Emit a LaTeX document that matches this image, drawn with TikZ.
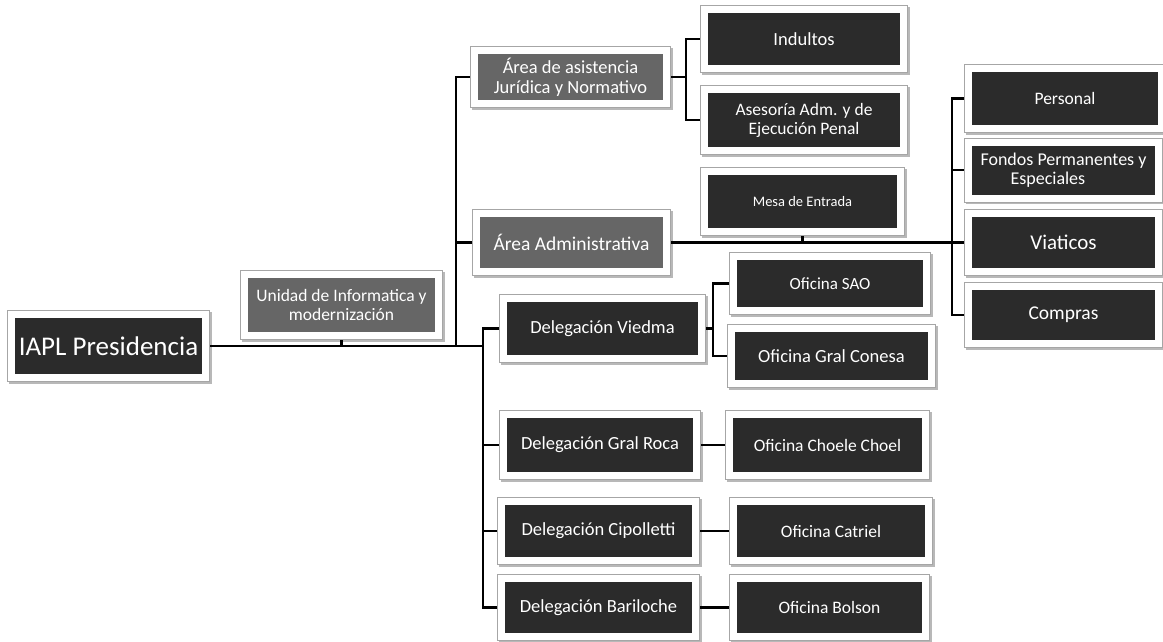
\documentclass[tikz,border=0pt]{standalone}
\usepackage{fontspec}
\setmainfont{Carlito}
\definecolor{darkbox}{HTML}{2B2B2B}
\definecolor{graybox}{HTML}{666666}
\definecolor{frameline}{HTML}{A6A6A6}
\tikzset{
  unit/.style={fill=darkbox, text=white, font=\fontsize{18.5}{20}\selectfont,
    align=center, inner sep=2pt, outer sep=8pt,
    preaction={draw=black!28, line width=16pt, transform canvas={shift={(1.5pt,-1.5pt)}}},
    preaction={draw=frameline, line width=16pt},
    preaction={draw=white, line width=14pt}},
  grayunit/.style={unit, fill=graybox},
  link/.style={draw=black, line width=2.4pt}
}
\begin{document}
\begin{tikzpicture}[x=1pt,y=-1pt]
\useasboundingbox (0,0) rectangle (1163,641);
% nodes
\node[unit, minimum width=187pt, minimum height=56pt, font=\fontsize{27}{30}\selectfont] (pres) at (108.5,346) {IAPL Presidencia};
\node[grayunit, minimum width=187pt, minimum height=54pt, font=\fontsize{17.5}{19}\selectfont] (unidad) at (341.5,305) {Unidad de Informatica y\\modernización};
\node[grayunit, minimum width=185pt, minimum height=46pt] (jur) at (570.5,77) {Área de asistencia\\Jurídica y Normativo};
\node[unit, minimum width=192pt, minimum height=52pt] (indultos) at (804,39) {Indultos};
\node[unit, minimum width=192pt, minimum height=54pt, font=\fontsize{17.5}{19}\selectfont] (asesoria) at (804,120) {Asesoría Adm. y de\\Ejecución Penal};
\node[unit, minimum width=189pt, minimum height=53pt, font=\fontsize{14.5}{16}\selectfont] (mesa) at (802.5,201.5) {Mesa de Entrada};
\node[grayunit, minimum width=183pt, minimum height=51pt, font=\fontsize{19.5}{21}\selectfont] (adm) at (571.5,242.5) {Área Administrativa};
\node[unit, minimum width=186pt, minimum height=53pt, font=\fontsize{17.5}{19}\selectfont] (personal) at (1065,98.5) {Personal};
\node[unit, minimum width=183pt, minimum height=49pt, align=left, font=\fontsize{18}{19}\selectfont] (fondos) at (1063.5,170) {Fondos Permanentes y\\\hspace*{30pt}Especiales};
\node[unit, minimum width=183pt, minimum height=51pt, font=\fontsize{21}{23}\selectfont] (viaticos) at (1063.5,242.5) {Viaticos};
\node[unit, minimum width=183pt, minimum height=50pt, font=\fontsize{19.5}{21}\selectfont] (compras) at (1063.5,315) {Compras};
\node[unit, minimum width=191pt, minimum height=53pt] (viedma) at (602.5,328.5) {Delegación Viedma};
\node[unit, minimum width=186pt, minimum height=47pt, font=\fontsize{17}{19}\selectfont] (sao) at (830,283.5) {Oficina SAO};
\node[unit, minimum width=193pt, minimum height=48pt] (conesa) at (831.5,356) {Oficina Gral Conesa};
\node[unit, minimum width=186pt, minimum height=54pt] (roca) at (600,445) {Delegación Gral Roca};
\node[unit, minimum width=189pt, minimum height=54pt, font=\fontsize{17.5}{19}\selectfont] (choele) at (827.5,445) {Oficina Choele Choel};
\node[unit, minimum width=187pt, minimum height=52pt] (cipo) at (598.5,531) {Delegación Cipolletti};
\node[unit, minimum width=188pt, minimum height=52pt, font=\fontsize{17.5}{19}\selectfont] (catriel) at (831,531) {Oficina Catriel};
\node[unit, minimum width=187pt, minimum height=51pt] (bari) at (598.5,607.5) {Delegación Bariloche};
\node[unit, minimum width=185pt, minimum height=51pt, font=\fontsize{17.5}{19}\selectfont] (bolson) at (829.5,607.5) {Oficina Bolson};
% junction points
\coordinate (s1) at (456,346);
\coordinate (s2) at (483,346);
\coordinate (jb) at (686,77);
\coordinate (rb) at (952,242.5);
\coordinate (vb) at (713,328.5);
% connectors
\draw[link] (pres.east) -- (s2);
\draw[link] (unidad.south) -- (unidad.south |- s1);
\draw[link] (s1) |- (jur.west);
\draw[link] (adm.west) -| (s1);
\draw[link] (s2) |- (viedma.west);
\draw[link] (s2) |- (roca.west);
\draw[link] (s2) |- (cipo.west);
\draw[link] (s2) |- (bari.west);
\draw[link] (jur.east) -- (jb);
\draw[link] (jb) |- (indultos.west);
\draw[link] (jb) |- (asesoria.west);
\draw[link] (adm.east) -- (rb);
\draw[link] (mesa.south) -- (mesa.south |- adm.east);
\draw[link] (rb) |- (personal.west);
\draw[link] (rb) |- (fondos.west);
\draw[link] (rb) |- (viaticos.west);
\draw[link] (rb) |- (compras.west);
\draw[link] (viedma.east) -- (vb);
\draw[link] (vb) |- (sao.west);
\draw[link] (vb) |- (conesa.west);
\draw[link] (roca.east) -- (choele.west);
\draw[link] (cipo.east) -- (catriel.west);
\draw[link] (bari.east) -- (bolson.west);
\end{tikzpicture}
\end{document}
